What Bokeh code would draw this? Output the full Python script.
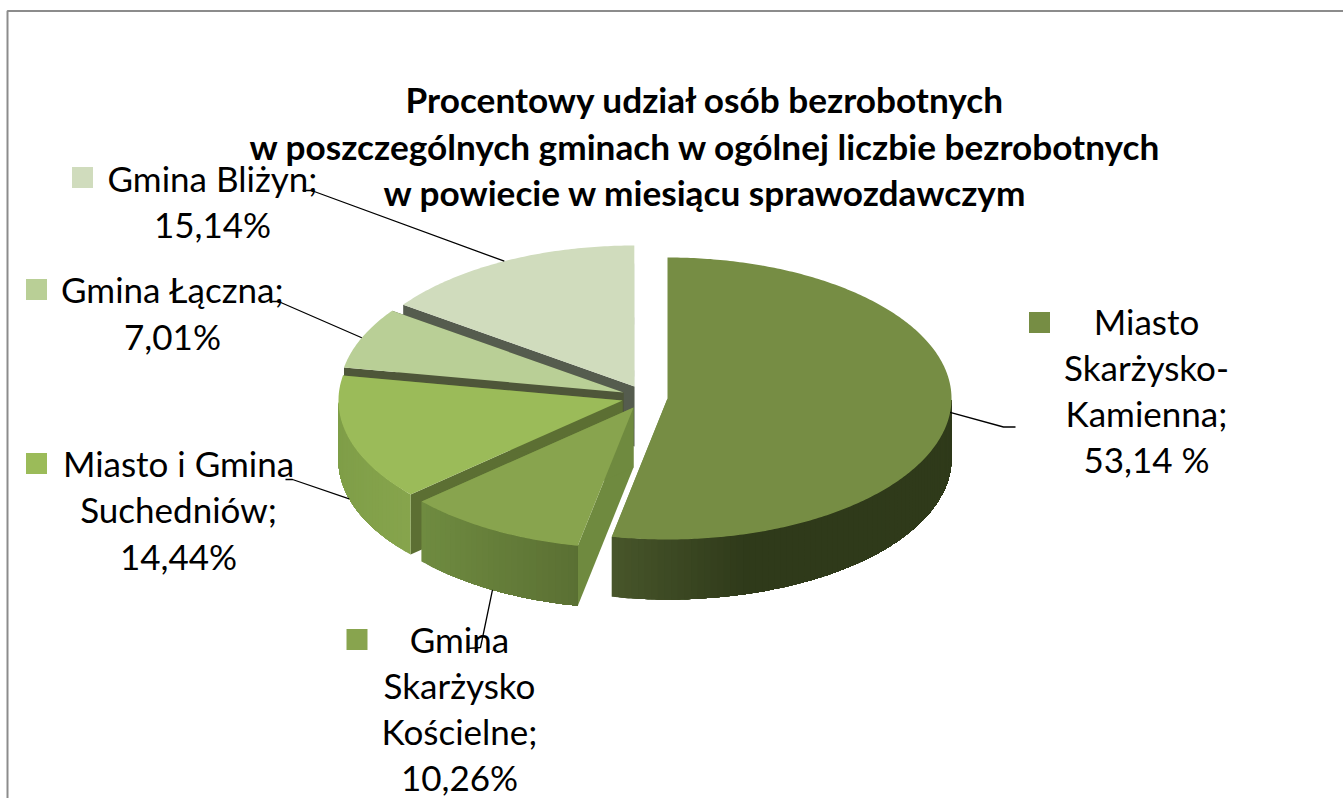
import math
from bokeh.plotting import figure
from bokeh.models import Range1d
from bokeh.core.properties import value
from bokeh.embed import file_html
from bokeh.resources import INLINE

# ---- data ----
categories = ["Miasto Skarżysko-Kamienna", "Gmina Skarżysko Kościelne",
              "Miasto i Gmina Suchedniów", "Gmina Łączna", "Gmina Bliżyn"]
shares = [53.14, 10.26, 14.44, 7.01, 15.14]
title_lines = ["Procentowy udział osób bezrobotnych",
               "w poszczególnych gminach w ogólnej liczbie bezrobotnych",
               "w powiecie w miesiącu sprawozdawczym"]
label_lines = [["Miasto", "Skarżysko-", "Kamienna;", "53,14 %"],
               ["Gmina", "Skarżysko", "Kościelne;", "10,26%"],
               ["Miasto i Gmina", "Suchedniów;", "14,44%"],
               ["Gmina Łączna;", "7,01%"],
               ["Gmina Bliżyn;", "15,14%"]]

# ---- style and layout ----
top_colors = ["#768d44", "#88a44e", "#9bbb59", "#b9cf96", "#d0dcbd"]
side_colors = ["#6f8a3f", "#6f8a3f", "#5c6f33", "#4e5639", "#555c4e"]
wall_from = ["#47552a", "#6f8b40", "#86a44c", "#7f9e48", "#555c4e"]
wall_to = ["#2f3a1a", "#5a6f33", "#7f9e48", "#7f9e48", "#555c4e"]
wall_span = [130, 156, 72, 72, 72]      # px over which a wall's gradient runs
apex = [(667, 398), (633, 407), (622, 400), (623, 392), (634, 386)]
RX, RY, DEPTH = 284, 141, 60
label_x = [1146, 459, 178, 172, 212]
label_y0 = [320, 638, 462, 288, 177]
label_step = [46, 46, 46.5, 47, 46]
key_xy = [(1039, 322), (356.5, 639), (36, 463), (36, 289), (82, 177)]
elbows = [[(1003, 426.5), (1015, 426.5)], [(480, 647), (467, 648)],
          [(292, 479), (285, 479)], [(278, 301), (270, 301)], [(311, 190), (302, 190)]]
leader_drop = [0, DEPTH, DEPTH, 0, 0]
FONT = "Lato"

W, H = 1343, 798
p = figure(width=W, height=H, output_backend="svg", toolbar_location=None,
           x_range=Range1d(0, W), y_range=Range1d(H, 0),
           min_border=0, outline_line_color=None, background_fill_color="white")
p.axis.visible = False
p.grid.visible = False


def hex2rgb(c):
    return [int(c[i:i + 2], 16) for i in (1, 3, 5)]


def mix(a, b, t):
    t = max(0.0, min(1.0, t))
    ra, rb = hex2rgb(a), hex2rgb(b)
    return "#%02x%02x%02x" % tuple(round(u + (v - u) * t) for u, v in zip(ra, rb))


def pt(c, deg, dy=0.0):
    r = math.radians(deg)
    return c[0] + RX * math.sin(r), c[1] - RY * math.cos(r) + dy


# angular limits of each slice, clockwise from 12 o'clock
limits, acc = [], 0.0
for s in shares:
    limits.append((acc * 3.6, (acc + s) * 3.6))
    acc += s

# painter's order: back slices first, front slices and the big one last
for i in [4, 3, 2, 1, 0]:
    a0, a1 = limits[i]
    c = apex[i]
    n = max(4, int((a1 - a0) * 1.5))
    degs = [a0 + (a1 - a0) * k / n for k in range(n + 1)]
    # radial side walls
    for a in (a0, a1):
        e = pt(c, a)
        p.patch([c[0], e[0], e[0], c[0]], [c[1], e[1], e[1] + DEPTH, c[1] + DEPTH],
                fill_color=side_colors[i], line_color=None)
    # outer wall, front half only: overlapping shaded layers, so no seams show
    front = [d for d in degs if 90 <= d <= 270]
    if len(front) > 1:
        if i in (0, 1):
            front = front[::-1]        # gradient runs from the slice's left end
        xstart = pt(c, front[0])[0]
        for k in range(0, len(front) - 1, 2):
            part = front[k:]
            top = [pt(c, d) for d in part]
            t = abs(top[0][0] - xstart) / wall_span[i]
            p.patch([q[0] for q in top] + [q[0] for q in top[::-1]],
                    [q[1] for q in top] + [q[1] + DEPTH for q in top[::-1]],
                    fill_color=mix(wall_from[i], wall_to[i], t), line_color=None)
    # top face
    ring = [pt(c, d) for d in degs]
    p.patch([c[0]] + [q[0] for q in ring], [c[1]] + [q[1] for q in ring],
            fill_color=top_colors[i], line_color=None)

# leader lines start at each slice's mid angle
for i in range(len(shares)):
    mid = sum(limits[i]) / 2
    s = pt(apex[i], mid, leader_drop[i])
    xs = [s[0]] + [q[0] for q in elbows[i]]
    ys = [s[1]] + [q[1] for q in elbows[i]]
    p.line(xs, ys, line_color="#000000", line_width=1.3)

# legend keys
p.scatter([k[0] for k in key_xy], [k[1] for k in key_xy], marker="square", size=21,
          fill_color=top_colors, line_color=None)

# labels
for i, lines in enumerate(label_lines):
    p.text([label_x[i]] * len(lines), [label_y0[i] + k * label_step[i] for k in range(len(lines))],
           text=lines, text_font=value(FONT), text_font_size="35px", text_color="#000000",
           text_align="center", text_baseline="middle")

# title
p.text([705] * 3, [98, 145, 191], text=title_lines, text_font=value(FONT), text_font_size="35.2px",
       text_font_style="bold", text_color="#000000", text_align="center", text_baseline="middle")

# chart frame (top and left edges are inside the picture)
p.line([7, 7, W], [H, 10.5, 10.5], line_color="#8c8c8c", line_width=2)

open("out.html", "w").write(file_html(p, INLINE))
